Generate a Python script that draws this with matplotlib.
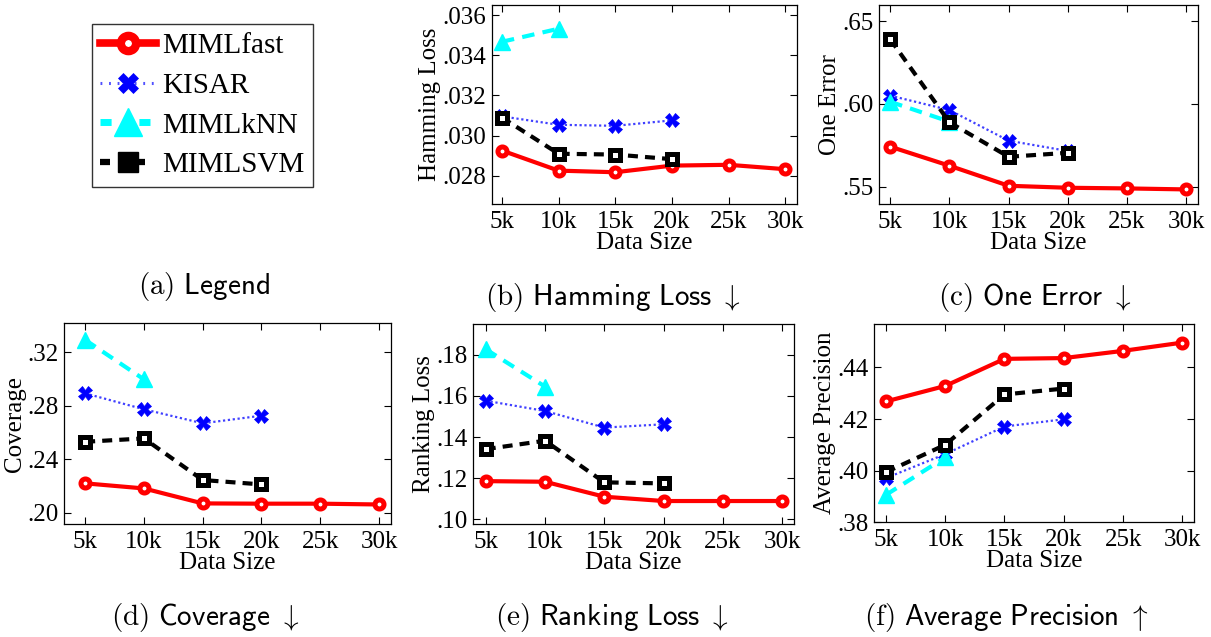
import numpy as np
import matplotlib
matplotlib.use('Agg')
import matplotlib.pyplot as plt
from matplotlib.lines import Line2D

plt.rcParams['font.family'] = ['Liberation Serif', 'DejaVu Serif']
plt.rcParams['mathtext.fontset'] = 'cm'

# data sizes (k)
sizes = [5, 10, 15, 20, 25, 30]
size_labels = ['5k', '10k', '15k', '20k', '25k', '30k']
methods = ['MIMLfast', 'KISAR', 'MIMLkNN', 'MIMLSVM']

# hamming loss
hl_fast = [0.02926, 0.02826, 0.02818, 0.02851, 0.02855, 0.02833]
hl_kisar = [0.03096, 0.03054, 0.03049, 0.03076]
hl_knn = [0.03467, 0.03532]
hl_svm = [0.03090, 0.02910, 0.02906, 0.02883]

# one error
oe_fast = [0.5742, 0.5627, 0.5506, 0.5494, 0.5490, 0.5484]
oe_kisar = [0.6050, 0.5963, 0.5778, 0.5716]
oe_knn = [0.6013, 0.5893]
oe_svm = [0.6390, 0.5889, 0.5681, 0.5705]

# coverage
cv_fast = [0.2220, 0.2182, 0.2070, 0.2068, 0.2068, 0.2062]
cv_kisar = [0.2893, 0.2774, 0.2669, 0.2726]
cv_knn = [0.3293, 0.2998]
cv_svm = [0.2531, 0.2556, 0.2245, 0.2212]

# ranking loss
rl_fast = [0.1185, 0.1182, 0.1109, 0.1088, 0.1088, 0.1088]
rl_kisar = [0.1577, 0.1527, 0.1446, 0.1462]
rl_knn = [0.1828, 0.1646]
rl_svm = [0.1341, 0.1382, 0.1179, 0.1174]

# average precision
ap_fast = [0.4268, 0.4328, 0.4433, 0.4436, 0.4464, 0.4496]
ap_kisar = [0.3971, 0.4064, 0.4171, 0.4199]
ap_knn = [0.3906, 0.4051]
ap_svm = [0.3994, 0.4100, 0.4295, 0.4318]

styles = {
    'MIMLfast': dict(color='red', linestyle='-', linewidth=3, marker='o', markersize=6.5,
                     markerfacecolor='white', markeredgecolor='red', markeredgewidth=3.6),
    'KISAR': dict(color='#4040ff', linestyle=(0, (1, 1.2)), linewidth=1.6, marker='X', markersize=10,
                  markerfacecolor='blue', markeredgecolor='blue', markeredgewidth=0.5),
    'MIMLkNN': dict(color='cyan', linestyle=(0, (3, 2)), linewidth=3, marker='^', markersize=12,
                    markerfacecolor='cyan', markeredgecolor='cyan', markeredgewidth=1),
    'MIMLSVM': dict(color='black', linestyle=(0, (2.4, 1.7)), linewidth=3, marker='s', markersize=6.5,
                    markerfacecolor='white', markeredgecolor='black', markeredgewidth=3.6),
}

# bigger glyphs used in the legend box
legend_styles = {
    'MIMLfast': dict(color='red', linestyle='-', linewidth=5.5, marker='o', markersize=11,
                     markerfacecolor='white', markeredgecolor='red', markeredgewidth=6),
    'KISAR': dict(color='#5050ff', linestyle=(0, (0.6, 2.2)), linewidth=2.2, marker='X', markersize=15,
                  markerfacecolor='blue', markeredgecolor='blue', markeredgewidth=0.5),
    'MIMLkNN': dict(color='cyan', linestyle=(0, (1.6, 4.0)), linewidth=5, marker='^', markersize=20,
                    markerfacecolor='cyan', markeredgecolor='cyan', markeredgewidth=1),
    'MIMLSVM': dict(color='black', linestyle=(0, (1.6, 4.0)), linewidth=4.5, marker='s', markersize=14,
                    markerfacecolor='black', markeredgecolor='black', markeredgewidth=1),
}

W, H = 1211, 637
fig = plt.figure(figsize=(W / 100, H / 100), dpi=100)

def px_axes(left, top, right, bottom):
    return fig.add_axes([left / W, 1 - bottom / H, (right - left) / W, (bottom - top) / H])

panels = [
    # (pixel box, series, ylabel, ylim, yticks, ticklabels, xlim, caption, caption pos)
    ((491.7, 5, 796.7, 204), (hl_fast, hl_kisar, hl_knn, hl_svm), 'Hamming Loss',
     (0.0266, 0.0365), [0.028, 0.030, 0.032, 0.034, 0.036], ['.028', '.030', '.032', '.034', '.036'],
     (4.1, 31), r'$\mathrm{(b)}\ \mathsf{Hamming\ Loss}\ \downarrow$', (613, 297)),
    ((879, 5, 1198, 204), (oe_fast, oe_kisar, oe_knn, oe_svm), 'One Error',
     (0.5396, 0.6597), [0.55, 0.60, 0.65], ['.55', '.60', '.65'],
     (4.05, 31), r'$\mathrm{(c)}\ \mathsf{One\ Error}\ \downarrow$', (1035, 297)),
    ((64, 323.3, 390.7, 524), (cv_fast, cv_kisar, cv_knn, cv_svm), 'Coverage',
     (0.1916, 0.3417), [0.20, 0.24, 0.28, 0.32], ['.20', '.24', '.28', '.32'],
     (3.2, 31), r'$\mathrm{(d)}\ \mathsf{Coverage}\ \downarrow$', (205, 618)),
    ((472.7, 324, 794, 524), (rl_fast, rl_kisar, rl_knn, rl_svm), 'Ranking Loss',
     (0.0976, 0.1951), [0.10, 0.12, 0.14, 0.16, 0.18], ['.10', '.12', '.14', '.16', '.18'],
     (3.9, 31), r'$\mathrm{(e)}\ \mathsf{Ranking\ Loss}\ \downarrow$', (612, 618)),
    ((874, 324, 1194.3, 522.3), (ap_fast, ap_kisar, ap_knn, ap_svm), 'Average Precision',
     (0.38, 0.4568), [0.38, 0.40, 0.42, 0.44], ['.38', '.40', '.42', '.44'],
     (4.0, 31), r'$\mathrm{(f)}\ \mathsf{Average\ Precision}\ \uparrow$', (1006, 618)),
]

for box, series, ylab, ylim, yt, ytl, xlim, cap, cpos in panels:
    ax = px_axes(*box)
    for name, vals in zip(methods, series):
        ax.plot(sizes[:len(vals)], vals, **styles[name], clip_on=False)
    ax.set_xlim(*xlim)
    ax.set_ylim(*ylim)
    ax.set_xticks(sizes)
    ax.set_xticklabels(size_labels)
    ax.set_yticks(yt)
    ax.set_yticklabels(ytl)
    ax.tick_params(direction='in', top=True, right=True, labelsize=18, length=5, width=0.8)
    ax.tick_params(axis='x', pad=5)
    ax.tick_params(axis='y', pad=4)
    ax.set_xlabel('Data Size', fontsize=18, labelpad=-1)
    ax.set_ylabel(ylab, fontsize=18, labelpad=1)
    for sp in ax.spines.values():
        sp.set_linewidth(0.9)
    fig.text(cpos[0] / W, 1 - cpos[1] / H, cap, fontsize=21, ha='center', va='center')

# legend panel (a)
handles = [Line2D([], [], **legend_styles[m]) for m in methods]
leg = fig.legend(handles, methods, loc='upper left', bbox_to_anchor=(91.7 / W, 1 - 24.3 / H),
                 fontsize=21, frameon=True, fancybox=False, edgecolor='black', handlelength=1.9,
                 handletextpad=0.2, borderpad=0.3, labelspacing=0.45, borderaxespad=0)
leg.get_frame().set_linewidth(1.0)
fig.text(204 / W, 1 - 287 / H, r'$\mathrm{(a)}\ \mathsf{Legend}$', fontsize=21, ha='center', va='center')

fig.savefig('out.png', dpi=100)
